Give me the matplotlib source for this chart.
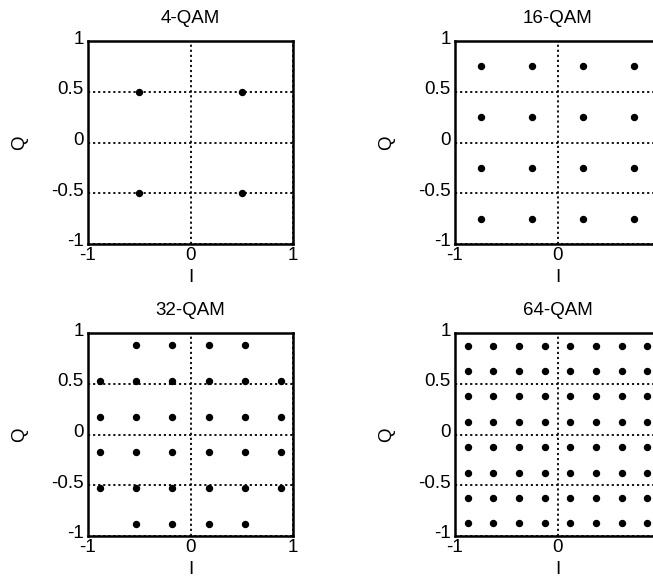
import matplotlib
matplotlib.use("Agg")
import matplotlib.pyplot as plt
from matplotlib.transforms import ScaledTranslation

plt.rcParams['font.family'] = ['Liberation Sans', 'DejaVu Sans']

# ---- data ----
titles = ["4-QAM", "16-QAM", "32-QAM", "64-QAM"]

qam4_I = [-0.5, 0.5, -0.5, 0.5]
qam4_Q = [0.5, 0.5, -0.5, -0.5]

qam16_levels = [-0.75, -0.25, 0.25, 0.75]

qam32_I = [-0.530, -0.177, 0.177, 0.530,
           -0.884, -0.530, -0.177, 0.177, 0.530, 0.884,
           -0.884, -0.530, -0.177, 0.177, 0.530, 0.884,
           -0.884, -0.530, -0.177, 0.177, 0.530, 0.884,
           -0.884, -0.530, -0.177, 0.177, 0.530, 0.884,
           -0.530, -0.177, 0.177, 0.530]
qam32_Q = [0.884] * 4 + [0.530] * 6 + [0.177] * 6 + [-0.177] * 6 + [-0.530] * 6 + [-0.884] * 4

qam64_levels = [-0.875, -0.625, -0.375, -0.125, 0.125, 0.375, 0.625, 0.875]

xticks = [-1, 0, 1]
yticks = [-1, -0.5, 0, 0.5, 1]
xticklabels_left = ["-1", "0", "1"]
xticklabels_right = ["-1", "0", ""]   # the "1" lies outside the cropped picture
yticklabels = ["-1", "-0.5", "0", "0.5", "1"]

qam16_I = [i for q in qam16_levels[::-1] for i in qam16_levels]
qam16_Q = [q for q in qam16_levels[::-1] for i in qam16_levels]
qam64_I = [i for q in qam64_levels[::-1] for i in qam64_levels]
qam64_Q = [q for q in qam64_levels[::-1] for i in qam64_levels]

points = [(qam4_I, qam4_Q), (qam16_I, qam16_Q), (qam32_I, qam32_Q), (qam64_I, qam64_Q)]

W, H = 653, 579
fig = plt.figure(figsize=(W / 100, H / 100), dpi=100)

# axes boxes in pixels: left, top, width, height
boxes = [(88, 41, 205, 203), (455, 41, 205, 203), (88, 333, 205, 203), (455, 333, 205, 203)]
FS = 13.5
up = ScaledTranslation(0, 0.04, fig.dpi_scale_trans)

for k, ((l, t, w, h), title, (xs, ys)) in enumerate(zip(boxes, titles, points)):
    ax = fig.add_axes([l / W, (H - t - h) / H, w / W, h / H])
    ax.set_xlim(-1, 1)
    ax.set_ylim(-1, 1)
    ax.set_xticks(xticks)
    ax.set_yticks(yticks)
    ax.set_xticklabels(xticklabels_left if k % 2 == 0 else xticklabels_right)
    ax.set_yticklabels(yticklabels)
    ax.grid(True, linestyle=(0, (1.2, 1.6)), color='black', linewidth=1.3)
    ax.set_axisbelow(True)
    ax.tick_params(length=0, labelsize=FS, pad=2.5, colors='black')
    ax.tick_params(axis='y', pad=3)
    for tk in ax.yaxis.get_major_ticks():
        tk.label1.set_transform(tk.label1.get_transform() + up)
    for s in ax.spines.values():
        s.set_linewidth(1.8)
        s.set_color('black')
    ax.plot(xs, ys, 'o', color='black', markersize=4.3, linestyle='none', zorder=3)
    ax.set_title(title, fontsize=FS, pad=13)
    ax.set_xlabel('I', fontsize=FS)
    ax.xaxis.set_label_coords(0.5, -0.122)
    ax.set_ylabel('Q', fontsize=FS)
    ax.yaxis.set_label_coords(-0.29, 0.5)

fig.savefig("out.png", dpi=100)
